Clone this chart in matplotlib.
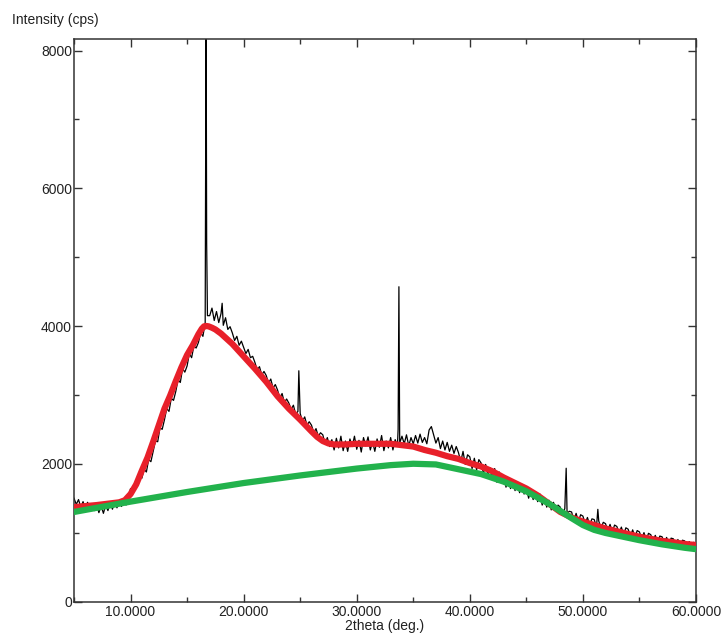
import numpy as np
import matplotlib
matplotlib.use("Agg")
import matplotlib.pyplot as plt
from matplotlib.ticker import MultipleLocator, FormatStrFormatter

plt.rcParams['font.family'] = ['Liberation Sans', 'DejaVu Sans']

# measured scan, one value every 0.2 deg from 5 to 60 (one row per degree)
scan_start, scan_step = 5.0, 0.2
scan_y = [
    1500, 1410, 1480, 1370, 1450,
    1350, 1440, 1330, 1420, 1320,
    1410, 1290, 1390, 1280, 1400,
    1320, 1440, 1340, 1450, 1360,
    1470, 1380, 1480, 1400, 1500,
    1640, 1590, 1720, 1680, 1810,
    1790, 1920, 1880, 2060, 2030,
    2180, 2330, 2320, 2520, 2500,
    2640, 2800, 2760, 2950, 2920,
    3050, 3220, 3180, 3380, 3330,
    3420, 3600, 3540, 3710, 3680,
    3760, 3900, 3850, 4050, 4150,
    4150, 4260, 4080, 4210, 4050,
    4180, 4010, 4120, 3950, 3990,
    3900, 3790, 3850, 3720, 3780,
    3690, 3600, 3660, 3540, 3560,
    3470, 3360, 3410, 3290, 3340,
    3280, 3170, 3230, 3100, 3150,
    3070, 2950, 3020, 2890, 2940,
    2880, 2790, 2850, 2720, 2760,
    2730, 2620, 2680, 2560, 2610,
    2560, 2450, 2510, 2400, 2450,
    2420, 2290, 2380, 2250, 2350,
    2200, 2370, 2230, 2400, 2190,
    2330, 2180, 2360, 2250, 2400,
    2210, 2340, 2170, 2380, 2260,
    2390, 2200, 2320, 2180, 2360,
    2240, 2410, 2190, 2330, 2230,
    2380, 2200, 2350, 2260, 2300,
    2400, 2290, 2420, 2260, 2380,
    2290, 2410, 2300, 2430, 2310,
    2380, 2290, 2490, 2540, 2420,
    2300, 2380, 2220, 2330, 2200,
    2310, 2180, 2270, 2150, 2250,
    2160, 2030, 2180, 1990, 2130,
    2100, 1930, 2080, 1910, 2060,
    2010, 1860, 1990, 1840, 1940,
    1800, 1930, 1730, 1880, 1720,
    1820, 1660, 1790, 1640, 1760,
    1610, 1740, 1580, 1700, 1560,
    1650, 1500, 1620, 1480, 1580,
    1450, 1560, 1400, 1510, 1370,
    1470, 1330, 1440, 1310, 1400,
    1370, 1250, 1350, 1280, 1310,
    1300, 1180, 1280, 1160, 1260,
    1240, 1130, 1220, 1110, 1200,
    1190, 1080, 1170, 1060, 1150,
    1130, 1030, 1120, 1010, 1110,
    1090, 990, 1080, 970, 1070,
    1050, 950, 1040, 930, 1030,
    1010, 910, 1000, 890, 990,
    970, 880, 960, 860, 950,
    940, 850, 930, 840, 920,
    910, 820, 900, 810, 890,
    880, 790, 870, 780, 860,
    830,
]

# sharp reflections sitting on top of the scan
peak_x = [16.68, 16.73, 18.10, 24.88, 33.66, 33.73, 33.79, 48.52, 51.32]
peak_y = [8800, 5200, 4330, 3350, 2500, 4570, 2600, 1935, 1338]

# fitted profile (red) and background (green)
fit_x = [5, 6, 7, 8, 9, 9.5, 10, 10.5, 11, 11.5, 12, 12.5, 13, 13.5, 14, 14.5,
         15, 15.5, 16, 16.3, 16.5, 16.7, 16.9, 17.2, 17.5, 18, 19, 20, 21, 22,
         23, 24, 25, 26, 26.5, 27, 27.5, 28, 29, 30, 31, 32, 33, 34, 35, 36,
         37, 38, 39, 40, 41, 42, 43, 44, 45, 46, 47, 48, 49, 50, 51, 52, 53,
         54, 55, 56, 57, 58, 59, 60]
fit_y = [1370, 1385, 1400, 1420, 1440, 1470, 1560, 1700, 1900, 2090, 2320,
         2560, 2800, 2990, 3200, 3400, 3580, 3720, 3880, 3960, 3995, 4000,
         3995, 3975, 3950, 3890, 3740, 3560, 3380, 3190, 2980, 2800, 2640,
         2470, 2390, 2330, 2295, 2280, 2280, 2290, 2290, 2290, 2290, 2270,
         2250, 2200, 2160, 2110, 2070, 2010, 1960, 1890, 1800, 1720, 1640,
         1540, 1420, 1300, 1220, 1160, 1110, 1060, 1020, 980, 940, 910, 880,
         860, 835, 820]

bg_x = [5, 10, 15, 20, 25, 30, 33, 35, 37, 39, 41, 43, 45, 47, 49, 50, 51,
        52, 53, 55, 57, 59, 60]
bg_y = [1300, 1450, 1590, 1720, 1830, 1930, 1980, 2000, 1990, 1920, 1850,
        1740, 1600, 1420, 1210, 1110, 1040, 995, 960, 890, 830, 780, 760]

scan_x = scan_start + scan_step * np.arange(len(scan_y))
all_x = np.concatenate([scan_x, peak_x])
all_y = np.concatenate([scan_y, peak_y])
order = np.argsort(all_x, kind='stable')

fig = plt.figure(figsize=(7.22, 6.33), dpi=100)
ax = fig.add_axes([74 / 722, 1 - 601.5 / 633, 622 / 722, 562.5 / 633])

ax.plot(all_x[order], all_y[order], color='black', lw=0.9, zorder=2)
ax.plot(fit_x, fit_y, color='#e8202a', lw=4.5, solid_joinstyle='round', zorder=3)
ax.plot(bg_x, bg_y, color='#22b24c', lw=4.5, solid_joinstyle='round', zorder=4)

ax.set_xlim(5, 60)
ax.set_ylim(0, 8167)
ax.xaxis.set_major_locator(MultipleLocator(10))
ax.xaxis.set_minor_locator(MultipleLocator(5))
ax.yaxis.set_major_locator(MultipleLocator(2000))
ax.yaxis.set_minor_locator(MultipleLocator(1000))
ax.xaxis.set_major_formatter(FormatStrFormatter('%.4f'))
ax.yaxis.set_major_formatter(FormatStrFormatter('%d'))

ax.tick_params(which='both', direction='in', top=True, right=True,
               color='#333333', width=1.0, labelsize=10, labelcolor='#222222')
ax.tick_params(which='major', length=5.5)
ax.tick_params(which='minor', length=3.8)
ax.tick_params(axis='y', pad=1.5)
ax.tick_params(axis='x', pad=2.5)
for s in ax.spines.values():
    s.set_color('#333333')
    s.set_linewidth(1.1)

fig.text(12 / 722, 1 - 20 / 633, 'Intensity (cps)', fontsize=10,
         color='#222222', ha='left', va='center')
fig.text(385 / 722, 1 - 626 / 633, '2theta (deg.)', fontsize=10,
         color='#222222', ha='center', va='center')

fig.savefig('out.png', dpi=100)
